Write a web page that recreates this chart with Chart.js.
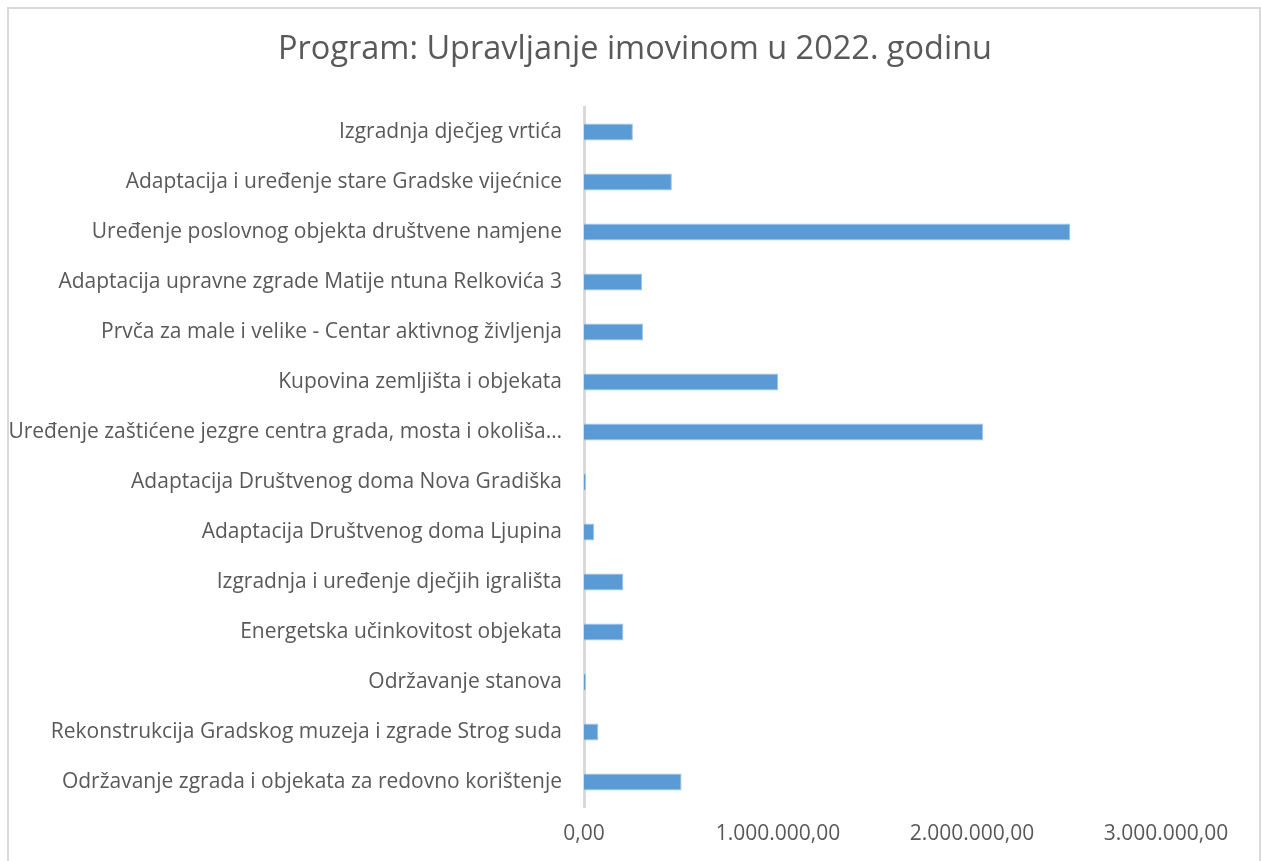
<!DOCTYPE html>
<html>
<head>
<meta charset="utf-8">
<script src="https://cdn.jsdelivr.net/npm/chart.js@4.4.1/dist/chart.umd.min.js"></script>
<style>
html,body{margin:0;padding:0;background:#fff;}
#wrap{position:absolute;left:0;top:0;width:1261px;height:861px;}
</style>
</head>
<body>
<div id="wrap"><canvas id="c" width="1261" height="861"></canvas></div>
<script>
const chartTitle = "Program: Upravljanje imovinom u 2022. godinu";
const categories = [
  "Izgradnja dječjeg vrtića",
  "Adaptacija i uređenje stare Gradske vijećnice",
  "Uređenje poslovnog objekta društvene namjene",
  "Adaptacija upravne zgrade Matije ntuna Relkovića 3",
  "Prvča za male i velike - Centar aktivnog življenja",
  "Kupovina zemljišta i objekata",
  "Uređenje zaštićene jezgre centra grada, mosta i okoliša…",
  "Adaptacija Društvenog doma Nova Gradiška",
  "Adaptacija Društvenog doma Ljupina",
  "Izgradnja i uređenje dječjih igrališta",
  "Energetska učinkovitost objekata",
  "Održavanje stanova",
  "Rekonstrukcija Gradskog muzeja i zgrade Strog suda",
  "Održavanje zgrada i objekata za redovno korištenje"
];
const values = [
  252000, 453000, 2507000, 299000, 304000, 1000000, 2058000,
  10000, 53000, 203000, 203000, 10000, 74000, 503000
];
const xTicks = [0, 1000000, 2000000, 3000000];

const FONT = '"Open Sans", "Noto Sans", sans-serif';

function fmt(v){
  const parts = Math.round(v).toString().replace(/\B(?=(\d{3})+(?!\d))/g, ".");
  return parts + ",00";
}

const frame = {
  id: 'frame',
  beforeDraw(chart){
    const ctx = chart.ctx;
    ctx.save();
    ctx.fillStyle = '#fff';
    ctx.fillRect(0,0,chart.width,chart.height);
    ctx.strokeStyle = '#d9d9d9';
    ctx.lineWidth = 2;
    ctx.strokeRect(8, 8, 1252, 900);
    ctx.fillStyle = '#595959';
    ctx.font = '32.5px ' + FONT;
    ctx.textAlign = 'center';
    ctx.textBaseline = 'middle';
    ctx.fillText(chartTitle, 635, 50);
    ctx.restore();
  }
};

new Chart(document.getElementById('c'), {
  type: 'bar',
  data: {
    labels: categories,
    datasets: [{
      data: values,
      backgroundColor: '#5b9bd5',
      borderColor: '#9fc3e8',
      borderWidth: 1,
      categoryPercentage: 1,
      barPercentage: 0.34
    }]
  },
  options: {
    indexAxis: 'y',
    responsive: false,
    animation: false,
    layout: { padding: { left: 0, right: 95, top: 107, bottom: 0 } },
    plugins: {
      legend: { display: false },
      tooltip: { enabled: false },
      title: { display: false }
    },
    scales: {
      x: {
        min: 0, max: 3000000,
        afterBuildTicks(scale){ scale.ticks = xTicks.map(v => ({value: v})); },
        afterFit(scale){ scale.height = 54; },
        grid: { display: false, drawTicks: false },
        border: { display: false },
        ticks: {
          color: '#595959',
          font: { family: FONT, size: 21 },
          padding: 14,
          maxRotation: 0,
          callback: (v) => fmt(v)
        }
      },
      y: {
        afterFit(scale){ scale.width = 584; },
        grid: { display: false, drawTicks: false },
        border: { display: true, color: '#d9d9d9', width: 3 },
        ticks: {
          color: '#595959',
          font: { family: FONT, size: 21 },
          padding: 22,
          autoSkip: false
        }
      }
    }
  },
  plugins: [frame]
});
</script>
</body>
</html>
